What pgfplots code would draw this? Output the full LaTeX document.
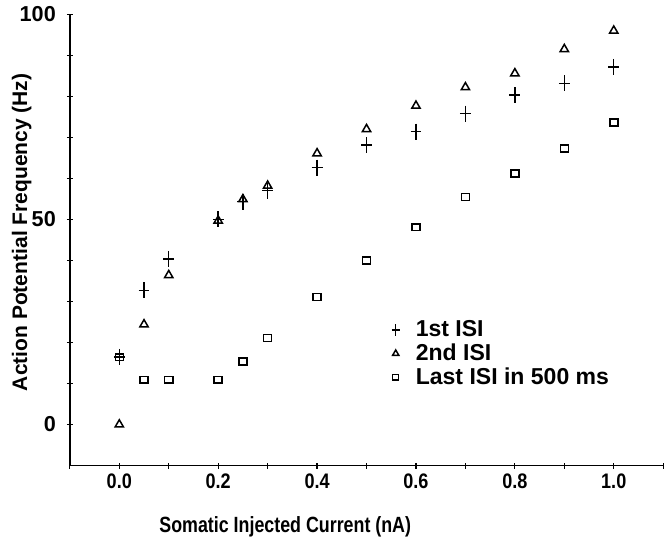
\documentclass[border=0pt]{standalone}
\usepackage{fontspec}
\usepackage{pgfplots}
\pgfplotsset{compat=1.18}
\setmainfont{Liberation Sans}
\newfontfamily\narrowfont{Liberation Sans}[FakeStretch=0.86]
\newfontfamily\labelfont{Liberation Sans}[FakeStretch=0.81]

% firing frequency vs injected current
\pgfplotstableread{
x    first second last
0.00 16.5  0.0   16.4
0.05 32.7  24.4  10.9
0.10 40.4  36.4  10.9
0.20 50.0  49.7  10.9
0.25 54.3  54.9  15.4
0.30 57.0  58.2  21.1
0.40 62.6  66.1  31.1
0.50 68.1  72.0  40.0
0.60 71.4  77.7  48.1
0.70 75.8  82.2  55.5
0.80 80.3  85.6  61.2
0.90 83.2  91.5  67.3
1.00 87.2  96.0  73.6
}\rates

\begin{document}
\begin{tikzpicture}
\begin{axis}[
  scale only axis,
  width=296.5pt, height=225.5pt,
  xmin=-0.1, xmax=1.1, ymin=-10, ymax=100,
  axis x line=bottom, axis y line=left,
  axis line style={-, line width=0.8pt},
  xtick={0,0.2,0.4,0.6,0.8,1.0},
  minor xtick={-0.1,0.1,0.3,0.5,0.7,0.9,1.1},
  ytick={0,50,100},
  minor ytick={10,20,30,40,60,70,80,90},
  tick align=center,
  major tick length=3pt, minor tick length=3pt,
  tick style={line width=0.6pt, black},
  /pgf/number format/assume math mode=true,
  xticklabel style={font=\narrowfont\bfseries\fontsize{10.5}{12}\selectfont,
    yshift=1pt, /pgf/number format/.cd, fixed, fixed zerofill, precision=1},
  yticklabel style={font=\bfseries\fontsize{10.8}{12}\selectfont, xshift=-2pt},
  xlabel={Somatic Injected Current (nA)},
  ylabel={Action Potential Frequency (Hz)},
  every axis x label/.style={at={(axis description cs:0.363,-0.135)}, anchor=center,
    font=\labelfont\bfseries\fontsize{11}{13}\selectfont},
  every axis y label/.style={at={(axis description cs:-0.081,0.517)}, anchor=center,
    rotate=90, inner sep=6pt, font=\bfseries\fontsize{10.5}{13}\selectfont},
  legend style={draw=none, fill=none, at={(axis cs:0.55,26.4)}, anchor=north west,
    font=\bfseries\fontsize{11.5}{13}\selectfont, row sep=-2pt, inner sep=0pt},
  legend cell align=left,
  legend image post style={scale=0.75},
]
\addplot[only marks, mark=+, mark size=4pt, mark options={xscale=0.68}, line width=0.7pt] table[x=x, y=first] {\rates};
\addplot[only marks, mark=triangle, mark size=2.4pt, line width=0.75pt] table[x=x, y=second] {\rates};
\addplot[only marks, mark=square, mark size=2pt, mark options={yscale=0.85}, line width=0.75pt] table[x=x, y=last] {\rates};
\legend{\hspace*{6pt}1st ISI, \hspace*{6pt}2nd ISI, \hspace*{6pt}Last ISI in 500 ms}
\end{axis}
\end{tikzpicture}
\end{document}
